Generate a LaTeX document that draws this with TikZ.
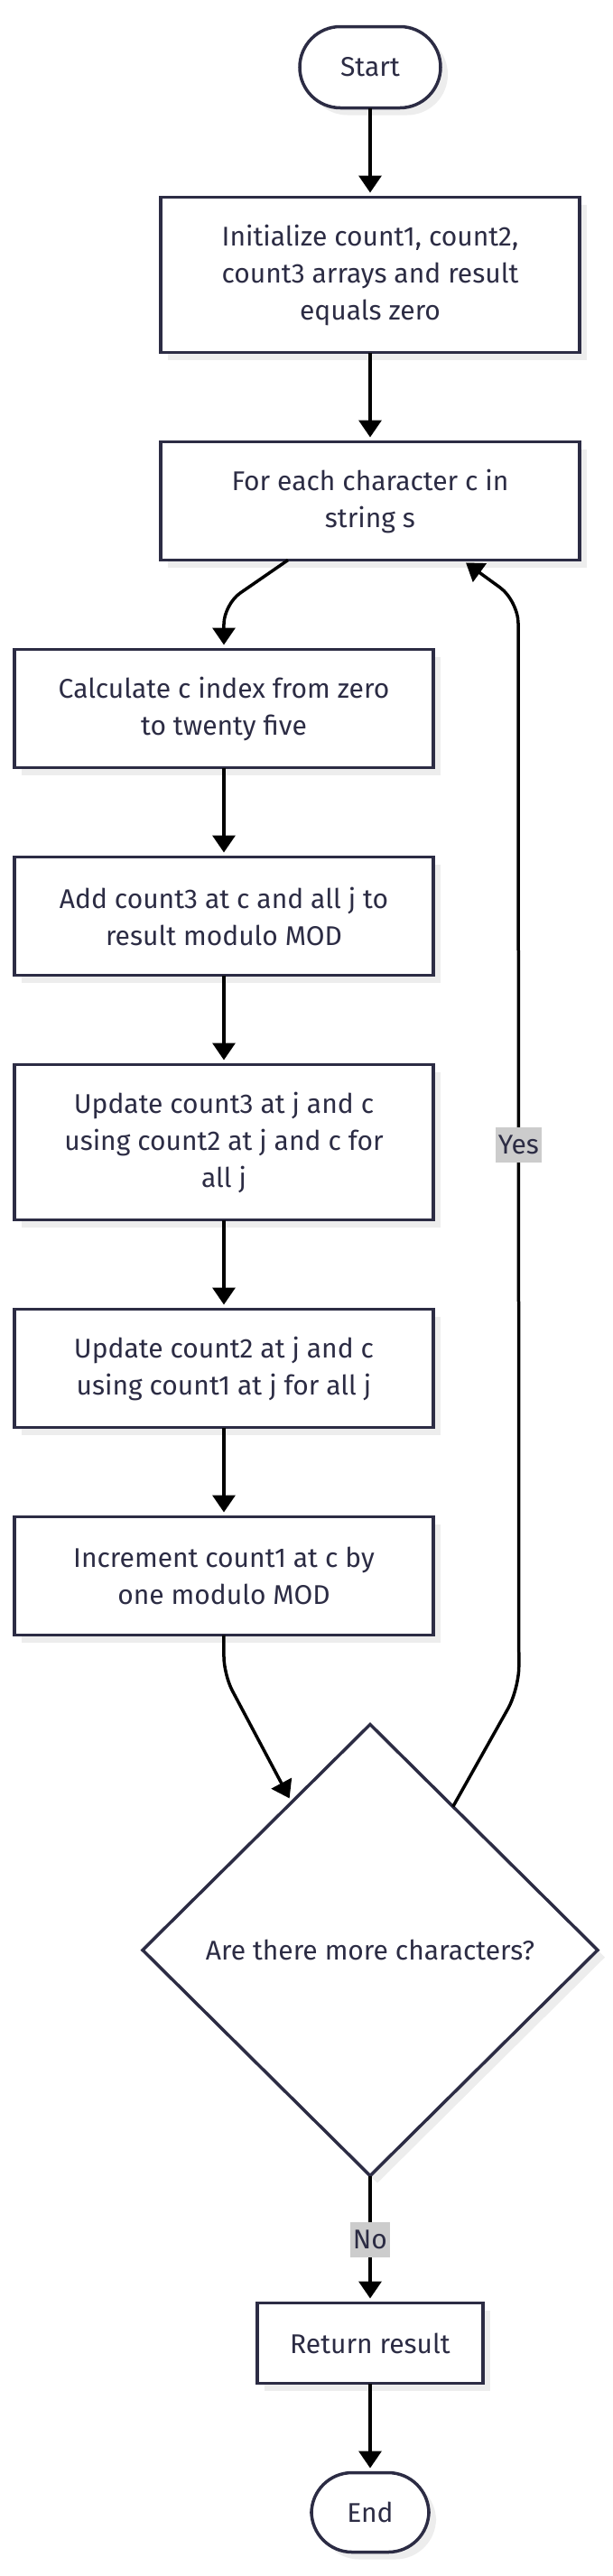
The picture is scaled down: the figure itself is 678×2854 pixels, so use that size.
\documentclass[tikz,border=0pt]{standalone}
\usepackage{fontspec}
\setmainfont{Fira Sans}
\usetikzlibrary{arrows.meta,positioning,shapes.geometric,shadows}
\definecolor{ink}{HTML}{2C2C44}
\definecolor{shade}{HTML}{EDEDED}
\definecolor{lblgray}{HTML}{CCCCCC}

\begin{document}
\begin{tikzpicture}[x=1pt,y=1pt,>={Triangle[length=19pt,width=25pt]},node distance=99pt,
  base/.style={draw=ink,line width=3.5pt,outer sep=0pt,fill=white,text=ink,align=center,font=\fontsize{30}{41}\selectfont,drop shadow={shadow xshift=8pt,shadow yshift=-8pt,fill=shade,opacity=1}},
  box/.style={base,minimum width=464pt,minimum height=131pt},
  tallbox/.style={box,minimum height=172pt},
  term/.style={base,rounded corners=45pt,minimum height=90pt},
  decide/.style={base,diamond,minimum width=504pt,minimum height=500pt,inner sep=0pt},
  arr/.style={->,line width=3.5pt,shorten >=5pt},
  lbl/.style={sharp corners,fill=lblgray,text=ink,font=\fontsize{30}{41}\selectfont,inner xsep=3pt,inner ysep=2pt,minimum height=39pt}]
\fill[white] (-410,74.5) rectangle (268,-2779.5);
\useasboundingbox (-410,74.5) rectangle (268,-2779.5);
% main column
\node[term,minimum width=156pt] (start) at (0,0) {Start};
\node[tallbox,below=of start] (init) {Initialize count1, count2,\\count3 arrays and result\\equals zero};
\node[box,below=of init] (for) {For each character c in\\string s};
% loop body
\node[box,below=of for,xshift=-162pt] (calc) {Calculate c index from zero\\to twenty five};
\node[box,below=of calc] (add) {Add count3 at c and all j to\\result modulo MOD};
\node[tallbox,below=of add] (upd3) {Update count3 at j and c\\using count2 at j and c for\\all j};
\node[box,below=of upd3] (upd2) {Update count2 at j and c\\using count1 at j for all j};
\node[box,below=of upd2] (incr) {Increment count1 at c by\\one modulo MOD};
\node[decide,below=of incr,xshift=162pt] (dec) {Are there more characters?};
\node[box,minimum width=250pt,minimum height=89pt,below=141pt of dec] (ret) {Return result};
\node[term,minimum width=130pt,minimum height=88pt,below=of ret] (finish) {End};
\draw[arr] (start) -- (init);
\draw[arr] (init) -- (for);
\draw[arr,rounded corners=22pt] ([xshift=-91pt]for.south) -- ([yshift=50pt]calc.north) -- (calc.north);
\draw[arr] (calc) -- (add);
\draw[arr] (add) -- (upd3);
\draw[arr] (upd3) -- (upd2);
\draw[arr] (upd2) -- (incr);
\draw[arr,rounded corners=20pt] (incr.south) -- ++(0,-44) -- (dec.118);
\draw[arr,rounded corners=25pt] (dec.60) -- ++(73,130) -- node[lbl]{Yes} ([xshift=164pt,yshift=-45pt]for.south) -- ([xshift=102pt]for.south);
\draw[arr] (dec) -- node[lbl]{No} (ret);
\draw[arr] (ret) -- (finish);
\end{tikzpicture}
\end{document}
